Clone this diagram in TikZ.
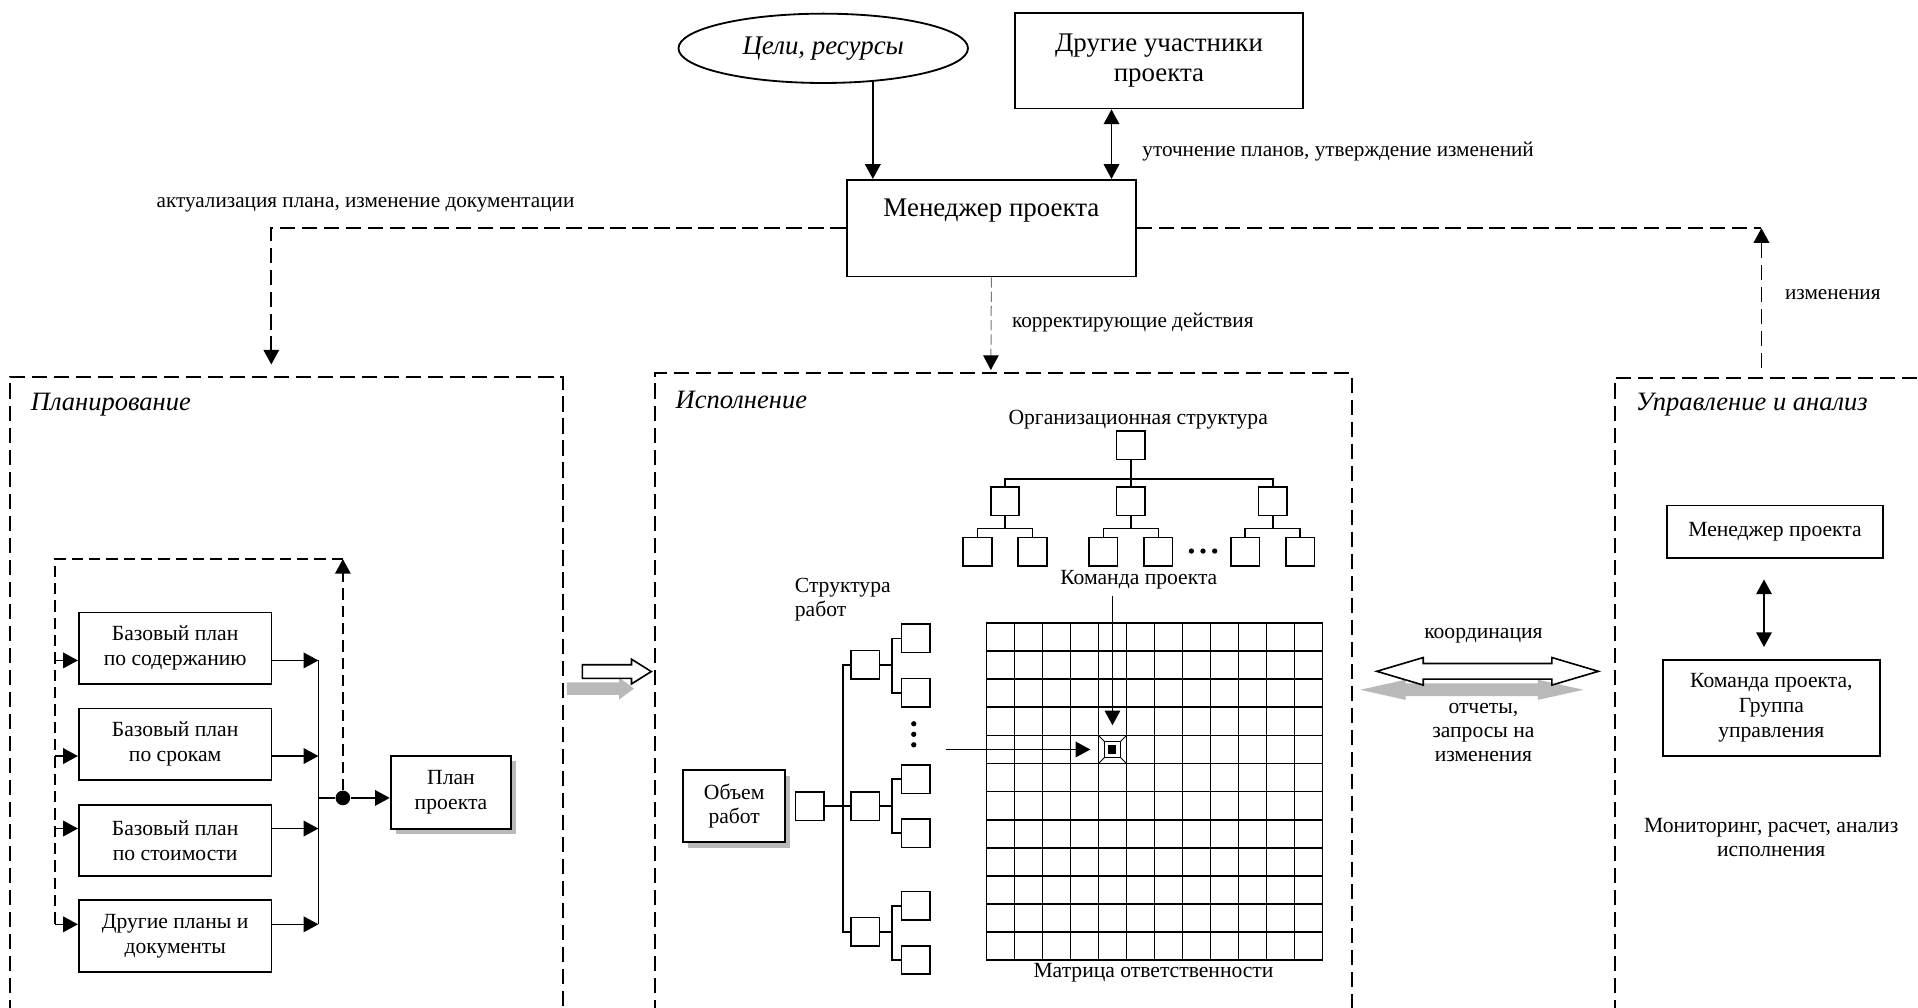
\documentclass[tikz,border=0pt]{standalone}
\usepackage{fontspec}
\setmainfont{Liberation Serif}
\usetikzlibrary{arrows.meta, positioning, shapes.geometric, shapes.arrows, calc}
\definecolor{PMshade}{RGB}{185, 185, 185}
\definecolor{PMgrey}{RGB}{120, 120, 120}

\begin{document}
\begin{tikzpicture}[x=0.6pt, y=-0.6pt,
		box/.style={shape=rectangle, draw, line width=0.9pt, align=center, inner sep=0pt, font=\fontsize{10.6}{12.2}\selectfont},
		bigbox/.style={box, font=\fontsize{13.2}{14.8}\selectfont},
		cell/.style={shape=rectangle, draw, line width=0.8pt, minimum width=14pt, minimum height=14pt, inner sep=0pt},
		lbl/.style={inner sep=0pt, align=center, font=\fontsize{10.4}{12}\selectfont},
		txt/.style={inner sep=0pt, align=center, font=\fontsize{10.6}{11.9}\selectfont},
		sect/.style={inner sep=0pt, anchor=west, font=\fontsize{13}{14}\selectfont\itshape},
		frame/.style={line width=0.9pt, dash pattern=on 7.5pt off 3.3pt},
		wire/.style={line width=0.8pt},
		arr/.style={line width=0.8pt, -{Triangle[length=7.2pt,width=7.6pt]}},
		darr/.style={line width=0.8pt, {Triangle[length=7.2pt,width=7.6pt]}-{Triangle[length=7.2pt,width=7.6pt]}},
		dash arr/.style={frame, -{Triangle[length=7.2pt,width=7.6pt]}},
		loop/.style={line width=0.8pt, dash pattern=on 5.5pt off 3pt}]

		\path[use as bounding box, fill=white] (0,0) rectangle (1568,824);

		% Top
		\node[bigbox, shape=ellipse, minimum width=142pt, minimum height=34pt, font=\fontsize{13.2}{14.8}\selectfont\itshape] (goals) at (673,39.5) {Цели, ресурсы};
		\node[bigbox, minimum width=141pt, minimum height=47pt] (others) at (947.5,49.5) {Другие участники\\проекта};
		\node[bigbox, minimum width=142pt, minimum height=47.4pt, text height=18pt, text depth=29.4pt] (mgr) at (810.5,186.5) {Менеджер проекта};
		\draw[arr] (goals.326) -- (goals.326 |- mgr.north);
		\draw[darr] ([xshift=58.9pt]mgr.north |- others.south) -- ([xshift=58.9pt]mgr.north);
		\node[lbl, anchor=west] (refine) at (933.6,124) {уточнение планов, утверждение изменений};

		% Sections
		\draw[frame] (8,830) -- (8,308) -- (460,308) -- (460,830);
		\draw[frame] (535.7,830) -- (535.7,305) -- (1105,305) -- (1105,830);
		\draw[frame] (1320,830) -- (1320,309) -- (1575,309);
		\node[sect] (tplan) at (25,331) {Планирование};
		\node[sect] (texec) at (552,327) {Исполнение};
		\node[sect] (tctl) at (1337,331) {Управление и анализ};
		\coordinate (plantop) at (221.8,308);
		\coordinate (exectop) at (810,305);
		\coordinate (ctltop) at (1440,309);

		% Connections from the manager
		\draw[dash arr, shorten >=6pt] (mgr.west) -| (plantop);
		\node[lbl, anchor=west] (update) at (127.7,167.6) {актуализация плана, изменение документации};
		\draw[dash arr, shorten <=4.8pt] (ctltop) -- (ctltop |- mgr.east);
		\draw[frame] (mgr.east) -- (ctltop |- mgr.east);
		\node[lbl, anchor=west] (changes) at (1459,241) {изменения};
		\draw[line width=0.5pt, draw=PMgrey, dash pattern=on 5pt off 2pt, -{Triangle[length=7.2pt,width=7.6pt,color=black]}, shorten >=1.5pt] (mgr.south) -- (exectop);
		\node[lbl, anchor=west] (correct) at (827,264) {корректирующие действия};

		% Planning
		\node[box, minimum width=94.5pt, minimum height=35.1pt] (b1) at (143.2,529.9) {Базовый план\\по содержанию};
		\node[box, minimum width=94.5pt, minimum height=35.1pt] (b2) at (143.2,608.4) {Базовый план\\по срокам};
		\node[box, minimum width=94.5pt, minimum height=35.1pt] (b3) at (143.2,687) {Базовый план\\по стоимости};
		\node[box, minimum width=94.5pt, minimum height=35.1pt] (b4) at (143.2,765.3) {Другие планы и\\документы};
		\fill[PMshade] ([shift={(2.5pt,-2.5pt)}]368.7,647.7) ++(-29.6pt,-17.8pt) rectangle ++(59.2pt,35.6pt);
		\node[box, fill=white, minimum width=59.2pt, minimum height=35.6pt] (pplan) at (368.7,647.7) {План\\проекта};
		\coordinate (r1) at ([yshift=-6pt]b1.east);
		\coordinate (r2) at ([yshift=-5.8pt]b2.east);
		\coordinate (r3) at ([yshift=5.8pt]b3.east);
		\coordinate (r4) at ([yshift=5.8pt]b4.east);
		\coordinate (l1) at ([yshift=-6pt]b1.west);
		\coordinate (l2) at ([yshift=-5.8pt]b2.west);
		\coordinate (l3) at ([yshift=5.8pt]b3.west);
		\coordinate (l4) at ([yshift=5.8pt]b4.west);
		\coordinate (bus) at (260.3,540);
		\draw[wire] (r1 -| bus) -- (r4 -| bus);
		\draw[arr] (r1) -- (r1 -| bus);
		\draw[arr] (r2) -- (r2 -| bus);
		\draw[arr] (r3) -- (r3 -| bus);
		\draw[arr] (r4) -- (r4 -| bus);
		\node[circle, fill, inner sep=0pt, minimum size=7.2pt] (dot) at (280.3,652.3) {};
		\draw[wire] (bus |- dot) -- (dot);
		\draw[arr] (dot) -- (dot -| pplan.west);
		\coordinate (fbtop) at (280.3,457);
		\coordinate (fbleft) at (45,457);
		\draw[loop, -{Triangle[length=7.2pt,width=7.6pt]}] (dot) -- (fbtop);
		\draw[loop] (fbtop) -- (fbleft) -- (fbleft |- l4);
		\draw[arr] (fbleft |- l1) -- (l1);
		\draw[arr] (fbleft |- l2) -- (l2);
		\draw[arr] (fbleft |- l3) -- (l3);
		\draw[arr] (fbleft |- l4) -- (l4);

		% Hand-over arrow
		\node[single arrow, fill=PMshade, minimum height=32.9pt, inner xsep=0pt, inner ysep=2.85pt, single arrow head extend=2.3pt, single arrow tip angle=73] (handsh) at (487.4,562.9) {};
		\node[single arrow, draw, fill=white, line width=0.8pt, minimum height=33.8pt, inner xsep=0pt, inner ysep=2.95pt, single arrow head extend=2.7pt, single arrow tip angle=64] (hand) at (499.8,549) {};

		% Execution
		\fill[PMshade] ([shift={(2.5pt,-2.8pt)}]600.2,659) ++(-25.1pt,-17.6pt) rectangle ++(50.2pt,35.2pt);
		\node[box, fill=white, minimum width=50.2pt, minimum height=35.2pt] (scope) at (600.2,659) {Объем\\работ};
		\node[txt, align=left, anchor=west] (wbst) at (649.5,490.2) {Структура\\работ};
		\node[cell] (w0) at (661.9,659) {};
		\node[cell] (w1) at (707.3,543.6) {};
		\node[cell] (w2) at (707.3,659) {};
		\node[cell] (w3) at (707.3,761.8) {};
		\node[cell] (w11) at (748.5,521.9) {};
		\node[cell] (w12) at (748.5,566.3) {};
		\node[cell] (w21) at (748.5,636.9) {};
		\node[cell] (w22) at (748.5,681.2) {};
		\node[cell] (w31) at (748.5,740.4) {};
		\node[cell] (w32) at (748.5,784.8) {};
		\draw[wire] (w0.east) -- ++(15,0) |- (w1.west);
		\draw[wire] (w0.east) -- (w2.west);
		\draw[wire] (w0.east) -- ++(15,0) |- (w3.west);
		\draw[wire] (w1.east) -- ++(9.4,0) |- (w11.west);
		\draw[wire] (w1.east) -- ++(9.4,0) |- (w12.west);
		\draw[wire] (w2.east) -- ++(9.4,0) |- (w21.west);
		\draw[wire] (w2.east) -- ++(9.4,0) |- (w22.west);
		\draw[wire] (w3.east) -- ++(9.4,0) |- (w31.west);
		\draw[wire] (w3.east) -- ++(9.4,0) |- (w32.west);
		\foreach \k in {0,1,2} \fill (747,591.7+\k*8.6) circle (1.3pt);

		\node[txt] (orgt) at (930.5,342.9) {Организационная структура};
		\node[cell] (o0) at (924.5,364) {};
		\node[cell] (o1) at (821.6,409.7) {};
		\node[cell] (o2) at (924.5,409.7) {};
		\node[cell] (o3) at (1040.5,409.7) {};
		\node[cell] (o11) at (799.1,451) {};
		\node[cell] (o12) at (844.1,451) {};
		\node[cell] (o21) at (902,451) {};
		\node[cell] (o22) at (947,451) {};
		\node[cell] (o31) at (1018,451) {};
		\node[cell] (o32) at (1063,451) {};
		\draw[wire] (o0.south) -- ++(0,15) -| (o1.north);
		\draw[wire] (o0.south) -- (o2.north);
		\draw[wire] (o0.south) -- ++(0,15) -| (o3.north);
		\draw[wire] (o1.south) -- ++(0,10) -| (o11.north);
		\draw[wire] (o1.south) -- ++(0,10) -| (o12.north);
		\draw[wire] (o2.south) -- ++(0,10) -| (o21.north);
		\draw[wire] (o2.south) -- ++(0,10) -| (o22.north);
		\draw[wire] (o3.south) -- ++(0,10) -| (o31.north);
		\draw[wire] (o3.south) -- ++(0,10) -| (o32.north);
		\foreach \k in {0,1,2} \fill (974+\k*9.5,450.5) circle (1.3pt);
		\node[txt] (team) at (931,474) {Команда проекта};

		% Responsibility matrix
		\foreach \i in {0,...,12} {
			\draw[line width=0.85pt] (806.4+\i*22.9,509.3) -- (806.4+\i*22.9,785);
			\draw[line width=0.85pt] (806.4,509.3+\i*22.975) -- (1081.2,509.3+\i*22.975);
		}
		\node[minimum size=13.7pt, inner sep=0pt] (hit) at (909.45,612.7) {};
		\draw[line width=0.4pt] (hit.north west) -- (hit.south east) (hit.north east) -- (hit.south west);
		\draw[line width=0.8pt, fill=white] ($(hit.north west)!0.22!(hit.south east)$) rectangle ($(hit.north west)!0.78!(hit.south east)$);
		\fill ($(hit.north west)!0.36!(hit.south east)$) rectangle ($(hit.north west)!0.64!(hit.south east)$);
		\draw[arr, shorten <=3pt, shorten >=4.8pt] (team.south -| hit.north) -- (hit.north);
		\coordinate (wbsout) at (773.4,612.7);
		\draw[arr, shorten >=3.8pt] (wbsout) -- (hit.west);
		\node[txt] (mtx) at (943,795.5) {Матрица ответственности};

		% Coordination
		\node[double arrow, fill=PMshade, minimum height=109.5pt, inner xsep=0pt, inner ysep=2.95pt, double arrow head extend=1.8pt, double arrow tip angle=25] (repsh) at (1203.2,563.9) {};
		\node[double arrow, draw, fill=white, line width=0.8pt, minimum height=108.7pt, inner xsep=0pt, inner ysep=3.45pt, double arrow head extend=2.9pt, double arrow tip angle=33] (coord) at (1216.1,548.8) {};
		\node[txt] (coordl) at (1212.7,519.7) {координация};
		\node[txt] (repl) at (1212.7,598.7) {отчеты,\\запросы на\\изменения};

		% Control and analysis
		\node[box, minimum width=106.3pt, minimum height=25.8pt] (cmgr) at (1451.1,434.8) {Менеджер проекта};
		\node[box, minimum width=106.7pt, minimum height=47.2pt] (cteam) at (1448.1,578.7) {Команда проекта,\\Группа\\управления};
		\draw[darr, shorten <=10pt, shorten >=5.8pt] ([xshift=-3.6pt]cteam.north |- cmgr.south) -- ([xshift=-3.6pt]cteam.north);
		\node[txt] (mon) at (1448,684.7) {Мониторинг, расчет, анализ\\исполнения};
	\end{tikzpicture}
\end{document}
